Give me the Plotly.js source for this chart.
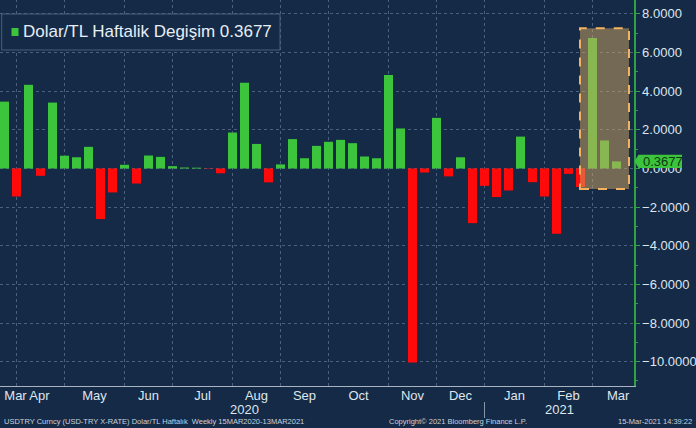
<!DOCTYPE html>
<html>
<head>
<meta charset="utf-8">
<script src="https://cdn.plot.ly/plotly-3.0.1.min.js"></script>
<style>
  html, body { margin: 0; padding: 0; background: #142a46; }
  #chart { width: 696px; height: 428px; }
</style>
</head>
<body>
<div id="chart"></div>
<script>
// ---- data ----
const weekDates = [
  '2020-03-20','2020-03-27','2020-04-03','2020-04-10','2020-04-17','2020-04-24',
  '2020-05-01','2020-05-08','2020-05-15','2020-05-22','2020-05-29',
  '2020-06-05','2020-06-12','2020-06-19','2020-06-26',
  '2020-07-03','2020-07-10','2020-07-17','2020-07-24','2020-07-31',
  '2020-08-07','2020-08-14','2020-08-21','2020-08-28',
  '2020-09-04','2020-09-11','2020-09-18','2020-09-25',
  '2020-10-02','2020-10-09','2020-10-16','2020-10-23','2020-10-30',
  '2020-11-06','2020-11-13','2020-11-20','2020-11-27',
  '2020-12-04','2020-12-11','2020-12-18','2020-12-25',
  '2021-01-01','2021-01-08','2021-01-15','2021-01-22','2021-01-29',
  '2021-02-05','2021-02-12','2021-02-19','2021-02-26',
  '2021-03-05','2021-03-12'
];
const weeklyChange = [
  3.46, -1.45, 4.33, -0.38, 3.41, 0.66,
  0.58, 1.12, -2.62, -1.24, 0.19,
  -0.78, 0.67, 0.60, 0.12,
  0.05, 0.04, -0.02, -0.25, 1.86,
  4.44, 1.27, -0.72, 0.21,
  1.52, 0.53, 1.17, 1.38,
  1.48, 1.31, 0.62, 0.53, 4.84,
  2.07, -10.05, -0.21, 2.62,
  -0.41, 0.58, -2.83, -0.90,
  -1.48, -1.14, 1.65, -0.71, -1.45,
  -3.38, -0.28, -0.96, 6.75,
  1.45, 0.3677
];
const lastValue = 0.3677;
const monthLabelDates = [
  '2020-03-26 10:00','2020-04-09 08:00','2020-05-11 12:00','2020-06-12','2020-07-13 12:00',
  '2020-08-14','2020-09-11','2020-10-12 12:00','2020-11-13','2020-12-11',
  '2021-01-11 12:00','2021-02-12','2021-03-13'
];
const monthLabels = ['Mar','Apr','May','Jun','Jul','Aug','Sep','Oct','Nov','Dec','Jan','Feb','Mar'];
const monthEndDates = [
  '2020-03-27','2020-04-24','2020-05-29','2020-06-26','2020-07-31','2020-08-28',
  '2020-09-25','2020-10-30','2020-11-27','2020-12-25','2021-01-29','2021-02-26'
];
const yearLabels = ['2020','2021'];
const yearLabelDates = ['2020-08-06 17:00','2021-02-06 12:00'];
const yearSplitDate = '2020-12-25';
const highlight = { x0: '2021-02-18 16:48', x1: '2021-03-19 07:00', y0: -1.06, y1: 7.26 };
const legendText = 'Dolar/TL Haftalik Degişim 0.3677';
const footLeft = 'USDTRY Curncy (USD-TRY X-RATE) Dolar/TL Haftalık  Weekly 15MAR2020-13MAR2021';
const footMid = 'Copyright\u00A9 2021 Bloomberg Finance L.P.';
const footRight = '15-Mar-2021 14:39:22';

// ---- style ----
const BG = '#142a46';
const GREEN = '#3cc43c';
const RED = '#ff0a0a';
const TXT = '#dfe6ee';
const GRID = 'rgba(120,140,170,0.55)';
const FONT = 'Liberation Sans, Arial, sans-serif';
const DAY = 86400000;

const barColors = weeklyChange.map(v => v >= 0 ? GREEN : RED);

const trace = {
  type: 'bar',
  x: weekDates,
  y: weeklyChange,
  width: weekDates.map(() => 5.25 * DAY),
  marker: { color: barColors, line: { width: 0 } },
  hoverinfo: 'x+y',
  showlegend: false
};

const H = 386, W = 634;
const py = p => 1 - p / H;
const px = p => p / W;

const shapes = [];
// vertical month gridlines
monthEndDates.forEach(d => shapes.push({
  type: 'line', xref: 'x', yref: 'paper', x0: d, x1: d, y0: 0, y1: 1,
  line: { color: GRID, width: 1, dash: 'dot' }, layer: 'below'
}));
shapes.push(
  // highlight box
  { type: 'rect', xref: 'x', yref: 'y', x0: highlight.x0, x1: highlight.x1, y0: highlight.y0, y1: highlight.y1,
    fillcolor: 'rgba(212,168,100,0.5)', line: { color: '#f4b25e', width: 2, dash: 'dash' }, layer: 'above' },
  // legend box
  { type: 'rect', xref: 'paper', yref: 'paper', x0: px(1.7), x1: px(280), y0: py(50), y1: py(14),
    fillcolor: BG, line: { color: '#4d5f78', width: 1 }, layer: 'above' },
  { type: 'rect', xref: 'paper', yref: 'paper', x0: px(11.5), x1: px(18.5), y0: py(36), y1: py(28),
    fillcolor: GREEN, line: { width: 0 }, layer: 'above' },
  // year separator
  { type: 'line', xref: 'x', yref: 'paper', x0: yearSplitDate, x1: yearSplitDate, y0: py(402), y1: py(418),
    line: { color: '#8795a8', width: 1 } },
  // last value tag
  { type: 'path', xref: 'paper', yref: 'y', layer: 'above',
    path: `M ${px(634.5)},${lastValue} L ${px(638.5)},${lastValue + 0.34} L ${px(682)},${lastValue + 0.34} L ${px(682)},${lastValue - 0.34} L ${px(638.5)},${lastValue - 0.34} Z`,
    fillcolor: GREEN, line: { width: 0 } }
);

const annotations = [
  { xref: 'paper', yref: 'paper', x: px(21), y: py(32), xanchor: 'left', yanchor: 'middle',
    text: legendText, showarrow: false, font: { family: FONT, size: 17, color: '#e8eef5' } },
  { xref: 'paper', yref: 'y', x: px(641), y: lastValue, xanchor: 'left', yanchor: 'middle',
    text: lastValue.toFixed(4), showarrow: false, font: { family: FONT, size: 13, color: '#0c3a10' } },
  { xref: 'paper', yref: 'paper', x: px(2), y: py(421), xanchor: 'left', yanchor: 'middle',
    text: footLeft, showarrow: false, font: { family: FONT, size: 7.5, color: '#c9d2dd' } },
  { xref: 'paper', yref: 'paper', x: px(458), y: py(421), xanchor: 'center', yanchor: 'middle',
    text: footMid, showarrow: false, font: { family: FONT, size: 7.5, color: '#c9d2dd' } },
  { xref: 'paper', yref: 'paper', x: px(694), y: py(421), xanchor: 'right', yanchor: 'middle',
    text: footRight, showarrow: false, font: { family: FONT, size: 7.5, color: '#c9d2dd' } }
];
yearLabels.forEach((t, i) => annotations.push({
  xref: 'x', yref: 'paper', x: yearLabelDates[i], y: py(409.5), xanchor: 'center', yanchor: 'middle',
  text: t, showarrow: false, font: { family: FONT, size: 13, color: TXT }
}));

const layout = {
  width: 696, height: 428,
  margin: { l: 0, r: 62, t: 0, b: 42, pad: 0 },
  paper_bgcolor: BG, plot_bgcolor: BG,
  showlegend: false,
  font: { family: FONT, size: 13, color: TXT },
  xaxis: {
    type: 'date',
    range: ['2020-03-17 09:00', '2021-03-22 05:00'],
    tickmode: 'array', tickvals: monthLabelDates, ticktext: monthLabels,
    tickangle: 0,
    ticks: '', showgrid: false, zeroline: false,
    showline: true, linecolor: '#a9b4c3', linewidth: 1,
    tickfont: { family: FONT, size: 13, color: TXT },
    ticklabelstandoff: -3,
    fixedrange: true
  },
  yaxis: {
    side: 'right',
    range: [-11.26, 8.72],
    dtick: 2, tick0: 0, tickformat: '.4f',
    showgrid: true, gridcolor: GRID, griddash: 'dot', gridwidth: 1,
    zeroline: false,
    showline: true, linecolor: '#2ea344', linewidth: 1.5,
    ticks: 'outside', ticklen: 4, tickcolor: '#2ea344', tickwidth: 1,
    minor: { dtick: 1, ticks: 'outside', ticklen: 2, tickcolor: '#2ea344', showgrid: false },
    tickfont: { family: FONT, size: 13, color: TXT },
    fixedrange: true
  },
  shapes: shapes,
  annotations: annotations
};

Plotly.newPlot('chart', [trace], layout, { displayModeBar: false, staticPlot: true });
</script>
</body>
</html>
